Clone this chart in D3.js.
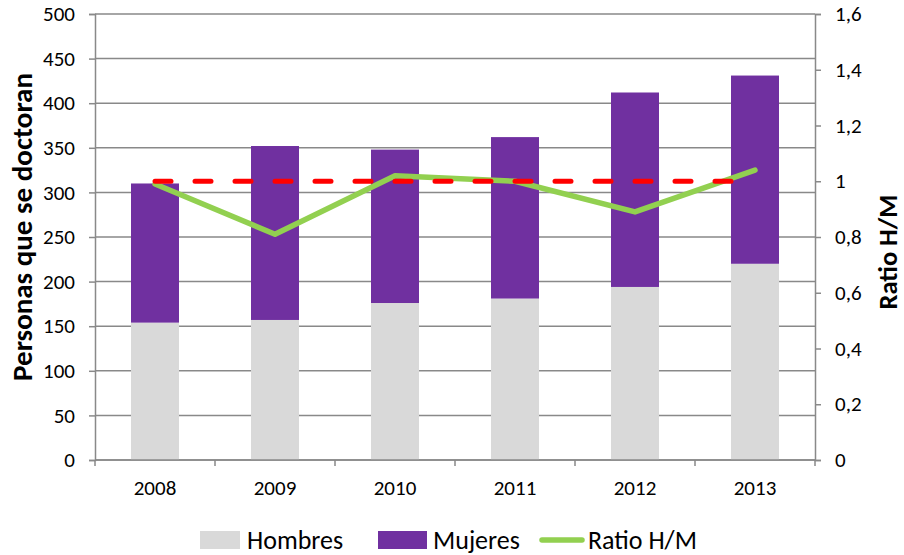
<!DOCTYPE html>
<html><head><meta charset="utf-8">
<script src="https://cdn.jsdelivr.net/npm/d3@7"></script>
<style>
body{margin:0;background:#fff;}
text{font-family:Carlito,Lato,"Open Sans",sans-serif;fill:#000;}
</style></head>
<body>
<svg id="c" width="904" height="555"></svg>
<script>
const years = ["2008","2009","2010","2011","2012","2013"];
const hombres = [154, 157, 176, 181, 194, 220];
const mujeres = [156, 195, 172, 181, 218, 211];
const ratio = [0.99, 0.81, 1.02, 1.00, 0.89, 1.04];
const reference = [1, 1, 1, 1, 1, 1];
const leftTicks = [0,50,100,150,200,250,300,350,400,450,500];
const rightTicks = [0,0.2,0.4,0.6,0.8,1,1.2,1.4,1.6];

const svg = d3.select("#c");
const L = 95, R = 815, T = 14, B = 460;
const FONT = "Carlito,Lato,'Open Sans',sans-serif";
const x = d3.scaleBand().domain(years).range([L, R]).padding(0);
const y = d3.scaleLinear().domain([0, 500]).range([B, T]);
const y2 = d3.scaleLinear().domain([0, 1.6]).range([B, T]);
const gridC = "#898989";

// gridlines
svg.append("g").selectAll("line").data(leftTicks).join("line")
  .attr("x1", L).attr("x2", R)
  .attr("y1", d => y(d)).attr("y2", d => y(d))
  .attr("stroke", gridC).attr("stroke-width", 1.5);

// bars
const bw = x.bandwidth() * 0.4;
const bars = svg.append("g");
bars.selectAll(".h").data(years).join("rect")
  .attr("x", d => x(d) + x.bandwidth()/2 - bw/2)
  .attr("width", bw)
  .attr("y", (d,i) => y(hombres[i]))
  .attr("height", (d,i) => y(0) - y(hombres[i]))
  .attr("fill", "#D9D9D9");
bars.selectAll(".m").data(years).join("rect")
  .attr("x", d => x(d) + x.bandwidth()/2 - bw/2)
  .attr("width", bw)
  .attr("y", (d,i) => y(hombres[i] + mujeres[i]))
  .attr("height", (d,i) => y(hombres[i]) - y(hombres[i] + mujeres[i]))
  .attr("fill", "#7030A0");

// axes
const leftAxis = svg.append("g").attr("transform", `translate(${L},0)`)
  .call(d3.axisLeft(y).tickValues(leftTicks).tickSize(6).tickPadding(14));
const rightAxis = svg.append("g").attr("transform", `translate(${R},0)`)
  .call(d3.axisRight(y2).tickValues(rightTicks).tickSize(6).tickPadding(14)
    .tickFormat(d => (d === 0 || d === 1) ? String(d) : d.toFixed(1).replace(".", ",")));
const bottomAxis = svg.append("g").attr("transform", `translate(0,${B})`)
  .call(d3.axisBottom(x).tickSize(0).tickPadding(20));
// category boundary ticks
svg.append("g").selectAll("line").data(years.concat(["end"])).join("line")
  .attr("x1", (d,i) => L + i * x.step()).attr("x2", (d,i) => L + i * x.step())
  .attr("y1", B).attr("y2", B + 6)
  .attr("stroke", gridC).attr("stroke-width", 1.5);

[leftAxis, rightAxis, bottomAxis].forEach(g => {
  g.select(".domain").attr("stroke", gridC).attr("stroke-width", 1.5);
  g.selectAll(".tick line").attr("stroke", gridC).attr("stroke-width", 1.5);
  g.selectAll("text").attr("font-size", 21).attr("font-family", FONT).attr("fill", "#000");
});
bottomAxis.select(".domain").attr("d", `M${L},0H${R}`);

// ratio line
const line = d3.line().x((d,i) => x(years[i]) + x.bandwidth()/2).y(d => y2(d));
svg.append("path").datum(ratio).attr("d", line)
  .attr("fill", "none").attr("stroke", "#92D050").attr("stroke-width", 5.5)
  .attr("stroke-linecap", "round").attr("stroke-linejoin", "round");
svg.append("path").datum(reference).attr("d", line)
  .attr("fill", "none").attr("stroke", "#FF0000").attr("stroke-width", 5)
  .attr("stroke-dasharray", "16,24").attr("stroke-linecap", "round");

// axis titles
svg.append("text").attr("transform", "translate(32,227) rotate(-90)")
  .attr("text-anchor", "middle").attr("font-weight", "bold").attr("font-size", 29)
  .text("Personas que se doctoran");
svg.append("text").attr("transform", "translate(897,252) rotate(-90)")
  .attr("text-anchor", "middle").attr("font-weight", "bold").attr("font-size", 26.5)
  .text("Ratio H/M");

// legend
const lg = svg.append("g");
lg.append("rect").attr("x", 200).attr("y", 531).attr("width", 40).attr("height", 18).attr("fill", "#D9D9D9");
lg.append("text").attr("x", 247).attr("y", 549).attr("font-size", 26).text("Hombres");
lg.append("rect").attr("x", 378).attr("y", 531).attr("width", 49).attr("height", 18).attr("fill", "#7030A0");
lg.append("text").attr("x", 433).attr("y", 549).attr("font-size", 26).text("Mujeres");
lg.append("line").attr("x1", 542).attr("x2", 582).attr("y1", 540).attr("y2", 540)
  .attr("stroke", "#92D050").attr("stroke-width", 5.5).attr("stroke-linecap", "round");
lg.append("text").attr("x", 588).attr("y", 549).attr("font-size", 26).text("Ratio H/M");
</script>
</body></html>
